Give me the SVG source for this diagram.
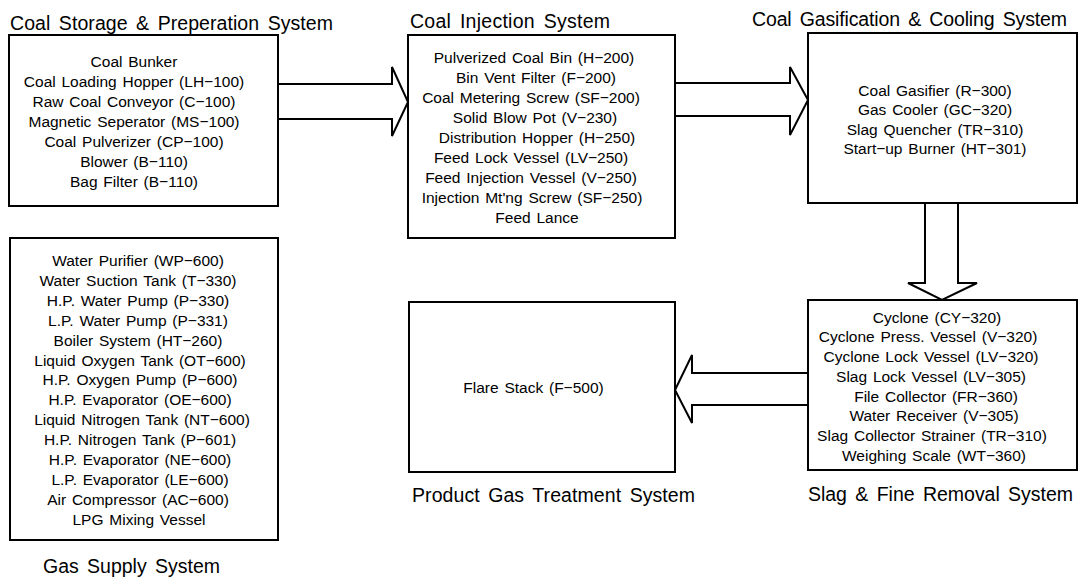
<svg xmlns="http://www.w3.org/2000/svg" width="1083" height="580" viewBox="0 0 1083 580">
<style>
.box{fill:#fff;stroke:#000;stroke-width:2}
.arr{fill:none;stroke:#000;stroke-width:2;stroke-linejoin:miter}
text{font-family:"Liberation Sans",Arial,sans-serif;fill:#000}
.t{font-size:15.5px;text-anchor:middle;word-spacing:1.5px}
.h{font-size:19.5px;word-spacing:3px}
</style>
<rect width="1083" height="580" fill="#fff"/>
<g id="connectors">
<path class="arr" d="M278,84 H392 V67 L408,102 L392,136 V119 H278"/>
<path class="arr" d="M675,83 H790 V67 L808,100 L790,135 V116 H675"/>
<path class="arr" d="M925,203 V283 H908 L942,300 L977,283 H958 V203"/>
<path class="arr" d="M808,373 H692 V355 L675,390 L692,423 V405 H808"/>
</g>
<g id="coal-storage">
<rect class="box" x="9" y="35" width="269" height="171"/>
<text class="h" x="10" y="30" textLength="323" lengthAdjust="spacing">Coal Storage &amp; Preperation System</text>
<text class="t" x="134" y="66.5">Coal Bunker</text>
<text class="t" x="134" y="86.5">Coal Loading Hopper (LH−100)</text>
<text class="t" x="134" y="106.5">Raw Coal Conveyor (C−100)</text>
<text class="t" x="134" y="126.5">Magnetic Seperator (MS−100)</text>
<text class="t" x="134" y="146.5">Coal Pulverizer (CP−100)</text>
<text class="t" x="134" y="166.5">Blower (B−110)</text>
<text class="t" x="134" y="186.5">Bag Filter (B−110)</text>
</g>
<g id="coal-injection">
<rect class="box" x="408" y="35" width="267" height="203"/>
<text class="h" x="410" y="28" textLength="200" lengthAdjust="spacing">Coal Injection System</text>
<text class="t" x="534" y="63">Pulverized Coal Bin (H−200)</text>
<text class="t" x="536" y="83">Bin Vent Filter (F−200)</text>
<text class="t" x="531" y="103">Coal Metering Screw (SF−200)</text>
<text class="t" x="535" y="123">Solid Blow Pot (V−230)</text>
<text class="t" x="537" y="143">Distribution Hopper (H−250)</text>
<text class="t" x="531" y="163">Feed Lock Vessel (LV−250)</text>
<text class="t" x="531" y="183">Feed Injection Vessel (V−250)</text>
<text class="t" x="532" y="203">Injection Mt'ng Screw (SF−250)</text>
<text class="t" x="537" y="223">Feed Lance</text>
</g>
<g id="coal-gasification">
<rect class="box" x="808" y="33" width="269" height="170"/>
<text class="h" x="752" y="26" textLength="315" lengthAdjust="spacing">Coal Gasification &amp; Cooling System</text>
<text class="t" x="935" y="95.5">Coal Gasifier (R−300)</text>
<text class="t" x="935" y="115">Gas Cooler (GC−320)</text>
<text class="t" x="935" y="134.5">Slag Quencher (TR−310)</text>
<text class="t" x="935" y="154">Start−up Burner (HT−301)</text>
</g>
<g id="slag-fine-removal">
<rect class="box" x="808" y="300" width="269" height="170"/>
<text class="h" x="808" y="501" textLength="265" lengthAdjust="spacing">Slag &amp; Fine Removal System</text>
<text class="t" x="937" y="322.5">Cyclone (CY−320)</text>
<text class="t" x="928" y="342.2">Cyclone Press. Vessel (V−320)</text>
<text class="t" x="931" y="362">Cyclone Lock Vessel (LV−320)</text>
<text class="t" x="931" y="381.7">Slag Lock Vessel (LV−305)</text>
<text class="t" x="936" y="401.5">File Collector (FR−360)</text>
<text class="t" x="934" y="421.2">Water Receiver (V−305)</text>
<text class="t" x="932" y="441">Slag Collector Strainer (TR−310)</text>
<text class="t" x="934" y="460.7">Weighing Scale (WT−360)</text>
</g>
<g id="product-gas-treatment">
<rect class="box" x="409" y="302" width="266" height="170"/>
<text class="h" x="412" y="502" textLength="283" lengthAdjust="spacing">Product Gas Treatment System</text>
<text class="t" x="533.5" y="393">Flare Stack (F−500)</text>
</g>
<g id="gas-supply">
<rect class="box" x="10" y="238" width="268" height="302"/>
<text class="h" x="43" y="573" textLength="177" lengthAdjust="spacing">Gas Supply System</text>
<text class="t" x="138" y="266">Water Purifier (WP−600)</text>
<text class="t" x="138" y="285.9">Water Suction Tank (T−330)</text>
<text class="t" x="138" y="305.8">H.P. Water Pump (P−330)</text>
<text class="t" x="138" y="325.7">L.P. Water Pump (P−331)</text>
<text class="t" x="138" y="345.6">Boiler System (HT−260)</text>
<text class="t" x="140" y="365.5">Liquid Oxygen Tank (OT−600)</text>
<text class="t" x="140" y="385.4">H.P. Oxygen Pump (P−600)</text>
<text class="t" x="140" y="405.3">H.P. Evaporator (OE−600)</text>
<text class="t" x="142" y="425.2">Liquid Nitrogen Tank (NT−600)</text>
<text class="t" x="140" y="445.1">H.P. Nitrogen Tank (P−601)</text>
<text class="t" x="140" y="465">H.P. Evaporator (NE−600)</text>
<text class="t" x="140" y="484.9">L.P. Evaporator (LE−600)</text>
<text class="t" x="138" y="504.8">Air Compressor (AC−600)</text>
<text class="t" x="139" y="524.7">LPG Mixing Vessel</text>
</g>
</svg>
